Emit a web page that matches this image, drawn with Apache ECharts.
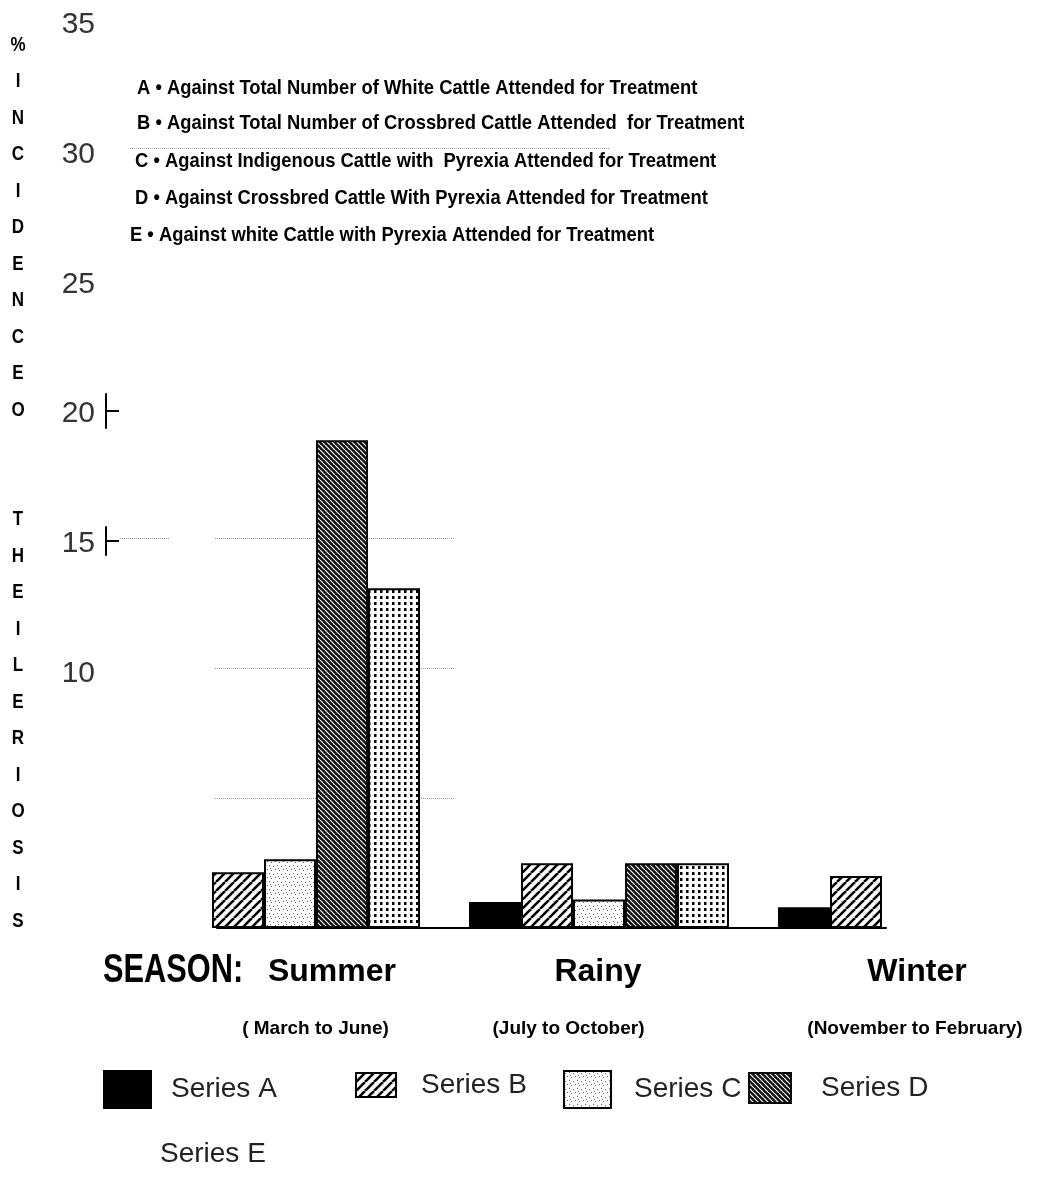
<!DOCTYPE html>
<html>
<head>
<meta charset="utf-8">
<script src="https://cdn.jsdelivr.net/npm/echarts@6/dist/echarts.min.js"></script>
<style>html,body{margin:0;padding:0;background:#fff}#c{width:1045px;height:1177px}</style>
</head>
<body>
<div id="c"></div>
<script>
// ---- data ----
const categories = ['Summer', 'Rainy', 'Winter'];
const subLabels = ['( March to June)', '(July to October)', '(November to February)'];
const seriesNames = ['Series A', 'Series B', 'Series C', 'Series D', 'Series E'];
const seriesA = [null, 1.0, 0.8];
const seriesB = [2.15, 2.5, 2.0];
const seriesC = [2.65, 1.1, null];
const seriesD = [18.8, 2.5, null];
const seriesE = [13.1, 2.5, null];
const yHiddenLabels = [0, 5];
const legendLines = [
  'A \u2022 Against Total Number of White Cattle Attended for Treatment',
  'B \u2022 Against Total Number of Crossbred Cattle Attended  for Treatment',
  'C \u2022 Against Indigenous Cattle with  Pyrexia Attended for Treatment',
  'D \u2022 Against Crossbred Cattle With Pyrexia Attended for Treatment',
  'E \u2022 Against white Cattle with Pyrexia Attended for Treatment'
];
const yTitle = '%INCIDENCEO  THEILERIOSIS';

// ---- patterns ----
function pattern(w, h, draw) {
  const c = document.createElement('canvas');
  c.width = w; c.height = h;
  const ctx = c.getContext('2d');
  ctx.fillStyle = '#fff'; ctx.fillRect(0, 0, w, h);
  draw(ctx, w, h);
  return { image: c, repeat: 'repeat' };
}
const patB = pattern(9, 9, (ctx, w) => {
  ctx.strokeStyle = '#000'; ctx.lineWidth = 2.6;
  ctx.beginPath();
  for (const k of [-w, 0, w]) { ctx.moveTo(k, w); ctx.lineTo(k + w, 0); }
  ctx.stroke();
});
const patC = pattern(8, 8, (ctx) => {
  ctx.fillStyle = '#666';
  [[1,2],[5,1],[3,5],[7,6],[6,4]].forEach(p => ctx.fillRect(p[0], p[1], 1, 1));
});
const patD = pattern(5, 5, (ctx, w) => {
  ctx.fillStyle = '#111'; ctx.fillRect(0, 0, w, w);
  ctx.strokeStyle = '#fff'; ctx.lineWidth = 1.2;
  ctx.beginPath();
  for (const k of [-w, 0, w]) { ctx.moveTo(k, 0); ctx.lineTo(k + w, w); }
  ctx.stroke();
});
const patE = pattern(6, 6, (ctx) => {
  ctx.fillStyle = '#000'; ctx.fillRect(2, 2, 2.5, 3);
});

const FONT = '"Liberation Sans", Arial, sans-serif';
const seriesData = [seriesA, seriesB, seriesC, seriesD, seriesE];
const fills = ['#000', patB, patC, patD, patE];

const chart = echarts.init(document.getElementById('c'), null, { renderer: 'canvas' });

const richX = {};
const tShift = [[0,0,0,84],[0,2,0,0],[0,0,0,18]];
const sShift = [[0,0,0,51],[0,61,0,0],[0,0,0,14]];
categories.forEach((c, i) => {
  richX['t' + i] = { fontFamily: FONT, fontWeight: 'bold', fontSize: 32, color: '#000', lineHeight: 44, padding: tShift[i] };
  richX['s' + i] = { fontFamily: FONT, fontWeight: 'bold', fontSize: 19, color: '#000', lineHeight: 70, padding: sShift[i] };
});

const legendCfg = [
  { left: 103, top: 1070, w: 47, h: 37, pad: 15 },
  { left: 355, top: 1071, w: 40, h: 24, pad: 20 },
  { left: 563, top: 1070, w: 47, h: 37, pad: 18 },
  { left: 748, top: 1072, w: 42, h: 30, pad: 25 },
  { left: 103, top: 1136, w: 47, h: 37, pad: 5 }
];

const dotted = { color: '#999', type: 'dotted', width: 1 };
const tickAxis = (gi) => ({
  gridIndex: gi, type: 'category', data: ['a', 'b', 'c'], boundaryGap: false,
  axisLine: { show: true, lineStyle: { color: '#000', width: 2 } },
  axisTick: { show: true, inside: true, length: 13, interval: (i) => i === 1, lineStyle: { color: '#000', width: 2 } },
  axisLabel: { show: false }, splitLine: { show: false }
});

const option = {
  backgroundColor: '#fff',
  animation: false,
  grid: [
    { left: 290, top: 18, width: 618, height: 910 },   // 0 main
    { left: 215, top: 538, width: 240, height: 390 },  // 1 gridlines 5..15
    { left: 130, top: 148, width: 480, height: 780 },  // 2 gridline 30
    { left: 217, top: 18, width: 669, height: 910 },   // 3 baseline
    { left: 106, top: 394, width: 14, height: 34 },    // 4 tick at 20
    { left: 106, top: 527, width: 14, height: 28 },    // 5 tick at 15
    { left: 120, top: 538, width: 50, height: 390 }    // 6 stub gridline 15
  ],
  xAxis: [
    { gridIndex: 0, type: 'category', data: categories, boundaryGap: false,
      axisLine: { show: false }, axisTick: { show: false }, splitLine: { show: false },
      axisLabel: { interval: 0, margin: 22, formatter: (v, i) => '{t' + i + '|' + v + '}\n{s' + i + '|' + subLabels[i] + '}', rich: richX } },
    { gridIndex: 1, type: 'value', show: false, min: 0, max: 1 },
    { gridIndex: 2, type: 'value', show: false, min: 0, max: 1 },
    { gridIndex: 3, type: 'value', min: 0, max: 1, axisLine: { show: true, lineStyle: { color: '#000', width: 2 } },
      axisTick: { show: false }, axisLabel: { show: false }, splitLine: { show: false } },
    { gridIndex: 4, type: 'value', show: false, min: 0, max: 1 },
    { gridIndex: 5, type: 'value', show: false, min: 0, max: 1 },
    { gridIndex: 6, type: 'value', show: false, min: 0, max: 1 }
  ],
  yAxis: [
    { gridIndex: 0, type: 'value', min: 0, max: 35, interval: 5, axisLine: { show: false }, axisTick: { show: false },
      splitLine: { show: false },
      axisLabel: { margin: 195, formatter: v => yHiddenLabels.indexOf(v) >= 0 ? '' : '{v|' + v + '}',
        rich: { v: { color: '#333', fontFamily: FONT, fontSize: 30, lineHeight: 30, padding: [10, 0, 0, 0] } } } },
    { gridIndex: 1, type: 'value', min: 0, max: 15, interval: 5, axisLine: { show: false }, axisTick: { show: false },
      axisLabel: { show: false }, splitLine: { show: true, showMinLine: false, lineStyle: dotted } },
    { gridIndex: 2, type: 'value', min: 0, max: 30, interval: 30, axisLine: { show: false }, axisTick: { show: false },
      axisLabel: { show: false }, splitLine: { show: true, showMinLine: false, lineStyle: dotted } },
    { gridIndex: 3, type: 'value', show: false, min: 0, max: 35 },
    tickAxis(4),
    tickAxis(5),
    { gridIndex: 6, type: 'value', min: 0, max: 15, interval: 15, axisLine: { show: false }, axisTick: { show: false },
      axisLabel: { show: false }, splitLine: { show: true, showMinLine: false, lineStyle: dotted } }
  ],
  legend: seriesNames.map((n, i) => ({
    data: [i === 4 ? { name: n, itemStyle: { color: '#fff', borderWidth: 0 } } : n],
    left: legendCfg[i].left, top: legendCfg[i].top, padding: 0, icon: 'rect',
    itemWidth: legendCfg[i].w, itemHeight: legendCfg[i].h, selectedMode: false,
    textStyle: { fontFamily: FONT, fontSize: 28, color: '#222', padding: [0, 0, 0, legendCfg[i].pad] }
  })),
  series: seriesNames.map((n, i) => ({
    name: n, type: 'bar', xAxisIndex: 0, yAxisIndex: 0, data: seriesData[i],
    barWidth: 52, barGap: '0%', z: 5, clip: false,
    itemStyle: { color: fills[i], borderColor: '#000', borderWidth: 2 }
  })),
  graphic: [
    { type: 'text', x: 18, y: 27, z: 10, scaleX: 0.85, style: { text: yTitle.split('').join('\n'), align: 'center', verticalAlign: 'top',
        font: 'bold 20px ' + FONT, lineHeight: 36.5, fill: '#000' } },
    { type: 'text', x: 103, y: 971, z: 10, scaleX: 0.77, style: { text: 'SEASON:', align: 'left', verticalAlign: 'middle',
        font: 'bold 40px ' + FONT, fill: '#000' } }
  ].concat(legendLines.map((t, i) => ({
    type: 'text', x: [137, 137, 135, 135, 130][i], y: [88, 123, 161, 198, 235][i], z: 10, scaleX: 0.875,
    style: { text: t, align: 'left', verticalAlign: 'middle', font: 'bold 21px ' + FONT, fill: '#000' }
  })))
};
chart.setOption(option);
</script>
</body>
</html>
